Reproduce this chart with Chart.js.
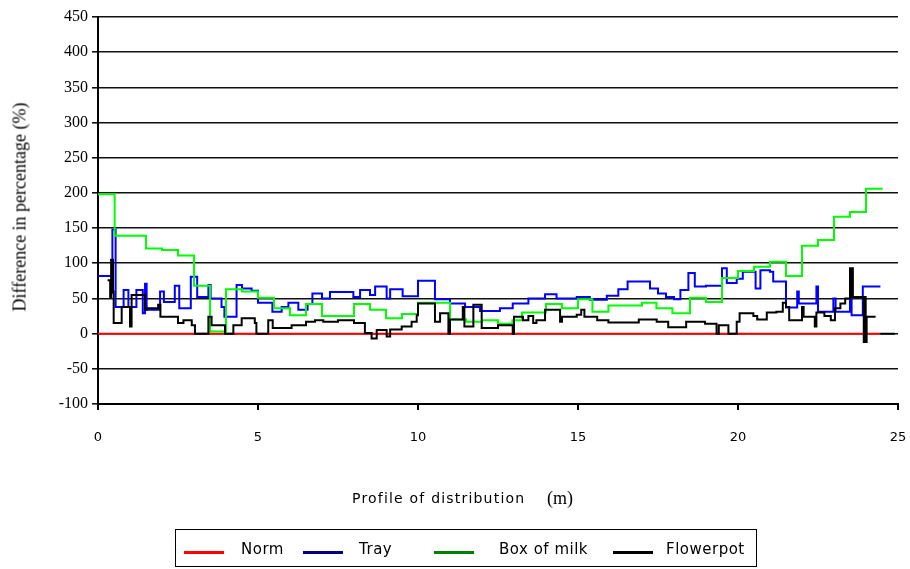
<!DOCTYPE html>
<html><head><meta charset="utf-8">
<script src="https://cdn.jsdelivr.net/npm/chart.js@4.4.0/dist/chart.umd.min.js"></script>
<style>
html,body{margin:0;padding:0;background:#fff;}
#wrap{position:relative;width:910px;height:569px;overflow:hidden;}
canvas{position:absolute;left:0;top:0;}
.t{position:absolute;white-space:pre;color:#000;line-height:1;}
#legend{position:absolute;left:175px;top:529px;width:582px;height:38px;border:1px solid #000;box-sizing:border-box;}
#legend .ln{position:absolute;top:21px;width:40px;height:3px;}
#legend .lt{position:absolute;top:12px;font:15px 'DejaVu Sans';letter-spacing:0.5px;line-height:1;white-space:pre;color:#000;}
</style></head><body>
<div id="wrap">
<canvas id="c" width="910" height="569"></canvas>
<div class="t" style="font:18px 'Liberation Serif';left:20px;top:207px;transform:translate(-50%,-50%) rotate(-90deg);">Difference in percentage (%)</div>
<div class="t" style="font:14px 'DejaVu Sans';letter-spacing:1.2px;left:352px;top:490px;">Profile of distribution</div>
<div class="t" style="font:18px 'Liberation Serif';left:547px;top:488px;">(m)</div>
<div id="legend"></div>
</div>
<script>
// ---- data ----
const seriesNames = ["Norm", "Tray", "Box of milk", "Flowerpot"];
const xTicks = [0, 5, 10, 15, 20, 25];
const yTicks = [-100, -50, 0, 50, 100, 150, 200, 250, 300, 350, 400, 450];

const normX = [0, 24.45];
const normY = [0, 0];

const trayX = [0, 0.45, 0.55, 0.8, 0.95, 1.2, 1.4, 1.47, 1.52, 1.94, 2.06, 2.4, 2.54, 2.9, 3.1, 3.45, 3.52, 3.86, 3.95, 4.33, 4.5, 4.8, 5.0, 5.45, 5.74, 5.95, 6.26, 6.55, 6.7, 7.0, 7.25, 7.98, 8.19, 8.5, 8.66, 9.02, 9.13, 9.52, 10.0, 10.53, 11.0, 11.47, 11.94, 12.56, 12.96, 13.45, 13.97, 14.33, 14.96, 15.37, 15.9, 16.26, 16.55, 17.25, 17.5, 17.75, 18.0, 18.2, 18.45, 18.65, 19.0, 19.5, 19.65, 19.96, 20.15, 20.55, 20.7, 21.0, 21.1, 21.5, 21.85, 21.9, 22.45, 22.5, 22.98, 23.05, 23.5, 23.55, 23.9, 24.45];
const trayY = [82, 148, 38, 62, 38, 62, 29, 71, 34, 60, 45, 68, 36, 81, 52, 69, 50, 38, 24, 69, 64, 61, 44, 31, 38, 44, 34, 42, 57, 50, 59, 52, 62, 55, 67, 50, 63, 53, 75, 49, 43, 38, 32, 36, 43, 50, 56, 50, 52, 48, 54, 63, 74, 64, 57, 52, 49, 62, 86, 67, 68, 93, 72, 78, 88, 64, 90, 88, 74, 37, 60, 43, 67, 31, 50, 31, 50, 26, 67, 67];

const milkX = [0, 0.52, 1.5, 2.0, 2.5, 3.0, 3.5, 4.0, 4.5, 5.0, 5.5, 6.0, 6.5, 7.0, 8.0, 8.5, 9.0, 9.5, 10.0, 11.0, 11.5, 12.0, 12.5, 12.95, 13.25, 14.0, 14.5, 15.0, 15.45, 15.95, 17.0, 17.45, 17.95, 18.5, 19.0, 19.5, 20.0, 20.5, 21.0, 21.5, 22.0, 22.5, 23.0, 23.5, 24.0, 24.52];
const milkY = [198, 139, 121, 119, 111, 68, 3, 63, 60, 51, 36, 26, 42, 25, 42, 34, 22, 28, 44, 20, 17, 19, 14, 19, 30, 42, 36, 49, 31, 40, 44, 36, 29, 51, 45, 79, 89, 95, 102, 82, 125, 133, 166, 173, 206, 206];

const potX = [0.3, 0.38, 0.41, 0.43, 0.45, 0.47, 0.49, 0.74, 1.0, 1.05, 1.47, 1.52, 1.88, 1.95, 2.5, 2.67, 2.93, 3.03, 3.45, 3.55, 3.97, 4.23, 4.49, 4.9, 4.95, 5.32, 5.46, 6.05, 6.5, 6.78, 7.04, 7.5, 8.0, 8.34, 8.55, 8.71, 9.02, 9.13, 9.49, 9.8, 9.96, 10.0, 10.53, 10.69, 10.95, 11.0, 11.4, 11.45, 11.73, 11.99, 12.5, 12.96, 13.0, 13.28, 13.45, 13.6, 13.7, 13.97, 14.44, 14.5, 14.96, 15.1, 15.2, 15.6, 15.95, 16.9, 17.46, 17.82, 18.38, 18.97, 19.33, 19.4, 19.7, 19.96, 20.05, 20.48, 20.6, 20.9, 21.2, 21.4, 21.5, 21.6, 22.0, 22.05, 22.4, 22.45, 22.7, 22.9, 23.03, 23.2, 23.35, 23.5, 23.53, 23.56, 23.59, 23.93, 23.96, 23.99, 24.02, 24.3, 24.31, 24.45, 24.9];
const potY = [76, 52, 105, 58, 105, 60, 15, 38, 10, 55, 34, 36, 41, 24, 15, 19, 12, 0, 24, 12, 0, 12, 22, 15, 0, 19, 8, 12, 17, 19, 17, 19, 15, 1, -7, 5, -4, 6, 10, 17, 26, 43, 17, 29, 0, 20, 38, 10, 41, 8, 12, 0, 24, 19, 25, 15, 19, 34, 17, 24, 27, 34, 24, 19, 16, 20, 17, 9, 17, 14, 0, 12, 0, 17, 29, 25, 20, 30, 31, 44, 38, 19, 38, 24, 10, 30, 25, 19, 36, 43, 50, 93, 52, 93, 52, -12, 52, -12, 24, 24, null, 0, 0];

const lineColors = ["#ff0000", "#0000ff", "#00ff00", "#000000"];
const legendColors = ["#ff0000", "#000080", "#008000", "#000000"];

function pts(xs, ys) { return xs.map((x, i) => ({ x: x, y: ys[i] })); }

const seriesData = [pts(normX, normY), pts(trayX, trayY), pts(milkX, milkY), pts(potX, potY)];
const drawOrder = [4, 3, 2, 1];

new Chart(document.getElementById('c'), {
  type: 'line',
  data: {
    datasets: seriesNames.map((n, i) => ({
      label: n,
      data: seriesData[i],
      borderColor: lineColors[i],
      backgroundColor: lineColors[i],
      borderWidth: 2,
      pointRadius: 0,
      stepped: true,
      fill: false,
      spanGaps: false,
      order: drawOrder[i]
    }))
  },
  options: {
    responsive: false,
    animation: false,
    layout: { padding: { left: 0, top: 17, right: 12, bottom: 0 } },
    plugins: { legend: { display: false }, tooltip: { enabled: false } },
    scales: {
      x: {
        type: 'linear',
        min: 0, max: 25,
        afterFit: s => { s.height = 165; s.paddingLeft = 0; s.paddingRight = 0; },
        afterBuildTicks: s => { s.ticks = xTicks.map(v => ({ value: v })); },
        grid: { drawOnChartArea: false, drawTicks: true, tickLength: 6, color: '#000', lineWidth: 2 },
        border: { display: true, color: '#000', width: 2 },
        ticks: { color: '#000', padding: 20, font: { family: 'DejaVu Sans', size: 13 }, maxRotation: 0 }
      },
      y: {
        type: 'linear',
        min: -100, max: 450,
        afterFit: s => { s.width = 98; },
        afterBuildTicks: s => { s.ticks = yTicks.map(v => ({ value: v })); },
        grid: { color: '#111', lineWidth: 1.6, tickLength: 6, drawTicks: true },
        border: { display: true, color: '#000', width: 2 },
        ticks: { color: '#000', padding: 4, font: { family: 'Liberation Serif', size: 16 } }
      }
    }
  }
});

// legend (HTML, real text)
const legendPos = [[8, 65], [127, 183], [258, 323], [437, 490]];
const lg = document.getElementById('legend');
seriesNames.forEach((n, i) => {
  const l = document.createElement('div');
  l.className = 'ln';
  l.style.left = legendPos[i][0] + 'px';
  l.style.background = legendColors[i];
  lg.appendChild(l);
  const t = document.createElement('div');
  t.className = 'lt';
  t.style.left = legendPos[i][1] + 'px';
  t.textContent = n;
  lg.appendChild(t);
});
</script>
</body></html>
